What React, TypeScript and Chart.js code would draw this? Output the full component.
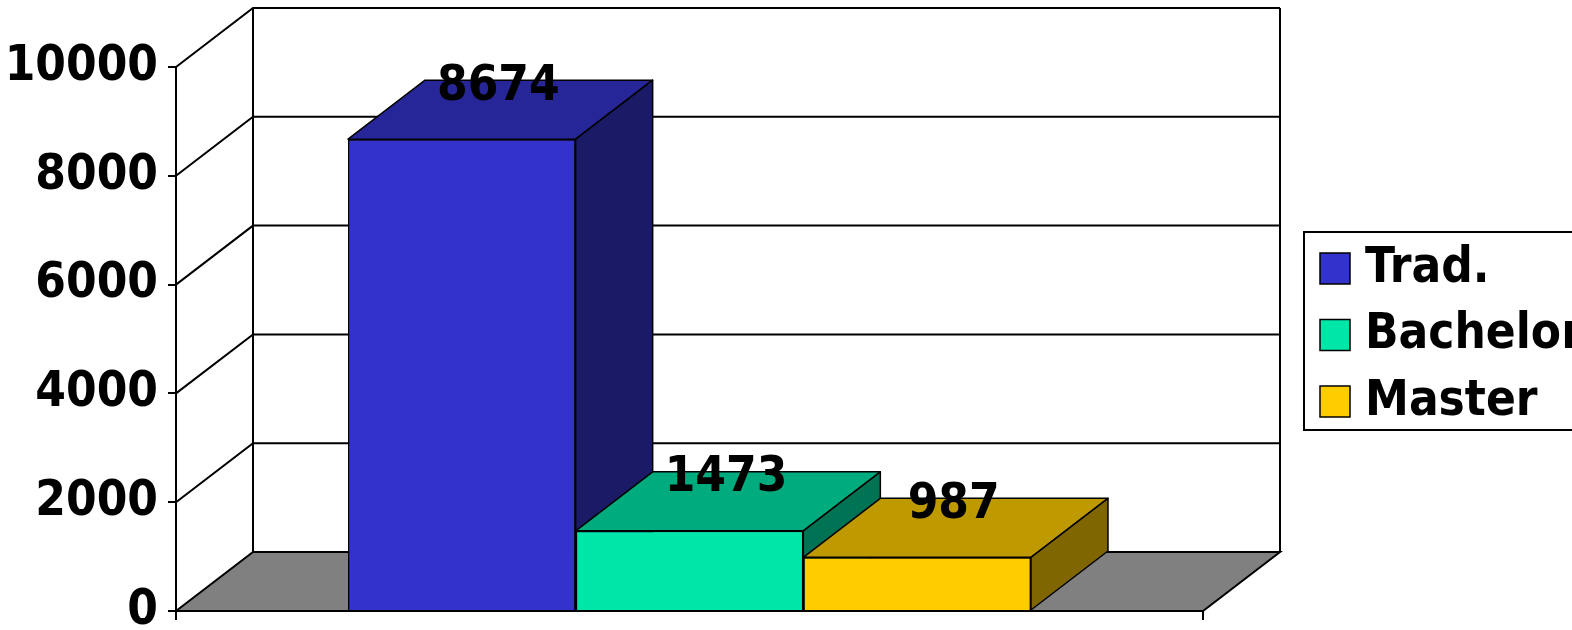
import React, { useEffect, useRef } from 'react';
import { Chart, registerables } from 'chart.js';

Chart.register(...registerables);

// ---- data ----
const categories = [''];
const seriesNames = ['Trad.', 'Bachelor', 'Master'];
const tradValues = [8674];
const bachelorValues = [1473];
const masterValues = [987];
const yMin = 0;
const yMax = 10000;
const yStep = 2000;

// ---- style ----
const FONT = "'DejaVu Sans Condensed', 'DejaVu Sans', Verdana, sans-serif";
const DX = 77;
const DY = 59;
const palette = [
  { front: '#3333CC', top: '#262699', side: '#1A1A66' },
  { front: '#00E6A8', top: '#00AC7E', side: '#007354' },
  { front: '#FFCC00', top: '#BF9900', side: '#806600' },
];

const threeD = {
  id: 'threeD',
  beforeDraw(chart: any) {
    const ctx = chart.ctx;
    const { left, right, top, bottom } = chart.chartArea;
    const ys = chart.scales.y;
    ctx.save();
    ctx.fillStyle = '#ffffff';
    ctx.fillRect(left + DX, top - DY, right - left, bottom - top);
    // floor
    ctx.beginPath();
    ctx.moveTo(left, bottom);
    ctx.lineTo(left + DX, bottom - DY);
    ctx.lineTo(right + DX, bottom - DY);
    ctx.lineTo(right, bottom);
    ctx.closePath();
    ctx.fillStyle = '#808080';
    ctx.fill();
    ctx.strokeStyle = '#000';
    ctx.lineWidth = 2;
    ctx.stroke();
    // grid lines on side and back walls
    ys.ticks.forEach((t: any) => {
      if (t.value === yMin) return;
      const py = ys.getPixelForValue(t.value);
      ctx.beginPath();
      ctx.moveTo(left, py);
      ctx.lineTo(left + DX, py - DY);
      ctx.lineTo(right + DX, py - DY);
      ctx.stroke();
    });
    ctx.beginPath();
    ctx.moveTo(left + DX, top - DY);
    ctx.lineTo(left + DX, bottom - DY);
    ctx.moveTo(right + DX, top - DY);
    ctx.lineTo(right + DX, bottom - DY);
    ctx.stroke();
    ctx.restore();
  },
  afterDatasetsDraw(chart: any) {
    const ctx = chart.ctx;
    // redraw bars left to right with their 3D faces so overlaps are correct
    chart.data.datasets.forEach((ds: any, i: number) => {
      const meta = chart.getDatasetMeta(i);
      const col = palette[i];
      meta.data.forEach((bar: any) => {
        bar.draw(ctx, chart.chartArea);
        const { x, y, base, width } = bar.getProps(['x', 'y', 'base', 'width'], true);
        const l = x - width / 2;
        const r = x + width / 2;
        ctx.save();
        ctx.strokeStyle = '#000';
        ctx.lineWidth = 1.5;
        ctx.lineJoin = 'round';
        ctx.beginPath();
        ctx.moveTo(l, y);
        ctx.lineTo(l + DX, y - DY);
        ctx.lineTo(r + DX, y - DY);
        ctx.lineTo(r, y);
        ctx.closePath();
        ctx.fillStyle = col.top;
        ctx.fill();
        ctx.stroke();
        ctx.beginPath();
        ctx.moveTo(r, y);
        ctx.lineTo(r + DX, y - DY);
        ctx.lineTo(r + DX, base - DY);
        ctx.lineTo(r, base);
        ctx.closePath();
        ctx.fillStyle = col.side;
        ctx.fill();
        ctx.stroke();
        ctx.restore();
      });
    });
    // value labels
    ctx.save();
    ctx.font = `bold 49px ${FONT}`;
    ctx.fillStyle = '#000';
    ctx.textAlign = 'center';
    ctx.textBaseline = 'alphabetic';
    chart.data.datasets.forEach((ds: any, i: number) => {
      const meta = chart.getDatasetMeta(i);
      meta.data.forEach((bar: any, j: number) => {
        const { x, y } = bar.getProps(['x', 'y'], true);
        ctx.fillText(String(ds.data[j]), x + DX / 2 - 2, y - DY / 2 - 10);
      });
    });
    ctx.restore();
  },
  afterDraw(chart: any) {
    const ctx = chart.ctx;
    ctx.save();
    ctx.strokeStyle = '#000';
    ctx.lineWidth = 2;
    ctx.strokeRect(1304, 232, 300, 198);
    ctx.font = `bold 49px ${FONT}`;
    ctx.textBaseline = 'middle';
    ctx.textAlign = 'left';
    chart.data.datasets.forEach((ds: any, i: number) => {
      const sy = 253 + i * 66.5;
      ctx.fillStyle = palette[i].front;
      ctx.fillRect(1320, sy, 30, 31);
      ctx.lineWidth = 1.5;
      ctx.strokeRect(1320, sy, 30, 31);
      ctx.fillStyle = '#000';
      ctx.fillText(ds.label, 1365, sy + 16);
    });
    ctx.restore();
  },
};

export default function App() {
  const ref = useRef<HTMLCanvasElement>(null);
  useEffect(() => {
    if (!ref.current) return;
    const seriesValues = [tradValues, bachelorValues, masterValues];
    const chart = new Chart(ref.current, {
      type: 'bar',
      data: {
        labels: categories,
        datasets: seriesNames.map((name, i) => ({
          label: name,
          data: seriesValues[i],
          backgroundColor: palette[i].front,
          borderColor: '#000',
          borderWidth: 1.5,
          categoryPercentage: 0.665,
          barPercentage: 1,
        })),
      },
      options: {
        animation: false,
        responsive: false,
        devicePixelRatio: 1,
        layout: { padding: { top: 67, right: 369, left: 0, bottom: 0 } },
        plugins: { legend: { display: false }, tooltip: { enabled: false } },
        scales: {
          x: {
            display: true,
            grid: { display: true, drawOnChartArea: false, drawTicks: true, tickLength: 9, color: '#000', lineWidth: 2, offset: true },
            ticks: { display: false },
            border: { display: false },
            afterFit: (s: any) => { s.height = 19; s.paddingLeft = 0; s.paddingRight = 0; },
          },
          y: {
            min: yMin,
            max: yMax,
            ticks: {
              stepSize: yStep,
              color: '#000',
              padding: 10,
              font: { family: FONT, size: 49, weight: 'bold' },
              callback: (v: any) => String(v),
            },
            grid: { drawOnChartArea: false, drawTicks: true, tickLength: 8, color: '#000', lineWidth: 2 },
            border: { display: true, color: '#000', width: 2 },
            afterFit: (s: any) => { s.width = 176; s.paddingTop = 0; s.paddingBottom = 0; },
          },
        },
      },
      plugins: [threeD],
    } as any);
    return () => chart.destroy();
  }, []);
  return (
    <div style={{ position: 'fixed', left: 0, top: 0, width: 1572, height: 630, background: '#fff' }}>
      <canvas ref={ref} width={1572} height={630} style={{ width: 1572, height: 630, display: 'block' }} />
    </div>
  );
}
